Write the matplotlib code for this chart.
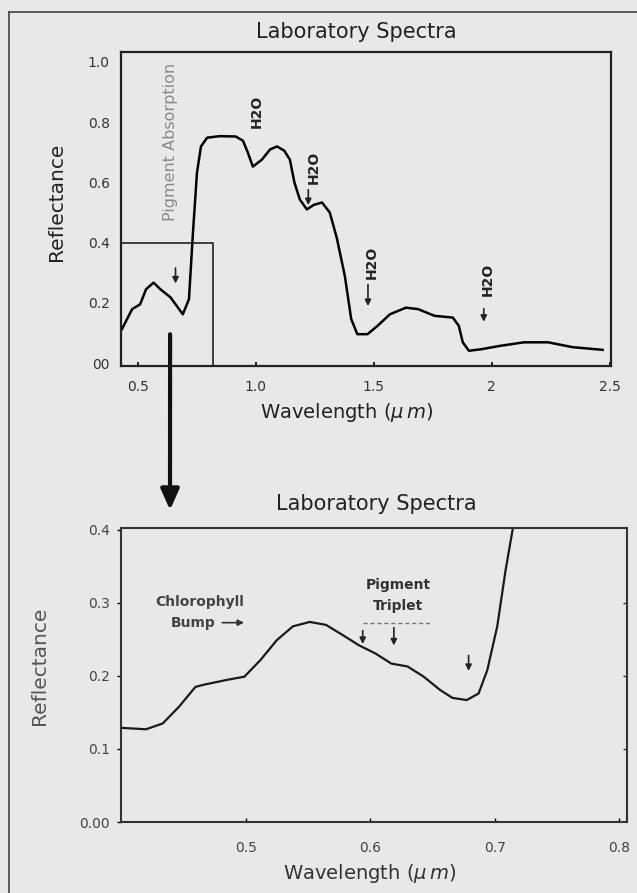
import matplotlib
matplotlib.use("Agg")
import matplotlib.pyplot as plt
from matplotlib.lines import Line2D

# full laboratory spectrum (wavelength in um, reflectance)
top_wl = [0.432, 0.475, 0.509, 0.534, 0.566, 0.595, 0.638, 0.69, 0.716, 0.733,
          0.75, 0.767, 0.793, 0.845, 0.914, 0.945, 0.965, 0.987, 1.025, 1.06,
          1.089, 1.12, 1.144, 1.163, 1.186, 1.216, 1.245, 1.28, 1.313, 1.343,
          1.377, 1.404, 1.43, 1.473, 1.516, 1.568, 1.636, 1.688, 1.757, 1.835,
          1.86, 1.877, 1.903, 1.955, 2.033, 2.136, 2.239, 2.342, 2.47]
top_refl = [0.113, 0.179, 0.195, 0.245, 0.267, 0.245, 0.218, 0.162, 0.212, 0.433,
            0.632, 0.719, 0.748, 0.753, 0.752, 0.738, 0.70, 0.652, 0.675, 0.709,
            0.719, 0.705, 0.675, 0.60, 0.543, 0.510, 0.525, 0.533, 0.50, 0.415,
            0.289, 0.146, 0.096, 0.096, 0.124, 0.162, 0.184, 0.179, 0.157, 0.151,
            0.124, 0.069, 0.041, 0.046, 0.057, 0.069, 0.069, 0.053, 0.044]

# zoom on the visible part
bot_wl = [0.400, 0.420, 0.4335, 0.4466, 0.4597, 0.4663, 0.486, 0.499, 0.512,
          0.525, 0.538, 0.5515, 0.5645, 0.578, 0.591, 0.604, 0.617, 0.630,
          0.643, 0.656, 0.666, 0.6775, 0.687, 0.694, 0.702, 0.7087, 0.7146, 0.72]
bot_refl = [0.129, 0.127, 0.135, 0.158, 0.185, 0.188, 0.195, 0.199, 0.222,
            0.249, 0.268, 0.274, 0.270, 0.256, 0.242, 0.231, 0.217, 0.213,
            0.199, 0.181, 0.170, 0.167, 0.176, 0.208, 0.268, 0.345, 0.403, 0.47]

top_xticks = [0.5, 1.0, 1.5, 2.0, 2.5]
top_xlabels = ["0.5", "1.0", "1.5", "2", "2.5"]
top_yticks = [0.0, 0.2, 0.4, 0.6, 0.8, 1.0]
top_ylabels = ["00", "0.2", "0.4", "0.6", "0.8", "1.0"]
bot_xticks = [0.5, 0.6, 0.7, 0.8]
bot_xlabels = ["0.5", "0.6", "0.7", "0.8"]
bot_yticks = [0.0, 0.1, 0.2, 0.3, 0.4]
bot_ylabels = ["0.00", "0.1", "0.2", "0.3", "0.4"]

# water absorption labels: (text x, text bottom y, arrow x, arrow top, arrow tip)
h2o_x = [1.004, 1.246, 1.49, 1.983]
h2o_y = [0.78, 0.593, 0.278, 0.222]
h2o_arrow = [None, (1.222, 0.585, 0.515), (1.475, 0.27, 0.18), (1.966, 0.19, 0.128)]

# pigment triplet arrows: (x, top, tip)
triplet = [(0.594, 0.266, 0.240), (0.619, 0.270, 0.238), (0.679, 0.232, 0.203)]

BG = "#e8e8e8"
INK = "#222222"
plt.rcParams["font.family"] = ["DejaVu Sans"]

fig = plt.figure(figsize=(6.37, 8.93), dpi=100, facecolor=BG)
ax1 = fig.add_axes([0.190, 0.590, 0.769, 0.352], facecolor=BG)
ax2 = fig.add_axes([0.190, 0.0795, 0.794, 0.3295], facecolor=BG)

# outer frame of the picture
fig.add_artist(Line2D([9 / 637, 9 / 637], [0, 1 - 12 / 893], transform=fig.transFigure,
                      color="#444444", lw=1.2))
fig.add_artist(Line2D([9 / 637, 1], [1 - 12 / 893, 1 - 12 / 893], transform=fig.transFigure,
                      color="#444444", lw=1.2))

# ---- top panel
ax1.plot(top_wl, top_refl, c="black", lw=1.8)
ax1.set_xlim(0.428, 2.505)
ax1.set_ylim(-0.01, 1.033)
ax1.set_xticks(top_xticks, top_xlabels)
ax1.set_yticks(top_yticks, top_ylabels)
ax1.tick_params(axis="x", direction="in", length=3, width=1.2, pad=10,
                labelsize=10, labelcolor="#333333")
ax1.tick_params(axis="y", length=0, pad=8, labelsize=10, labelcolor="#333333")
for s in ax1.spines.values():
    s.set_linewidth(1.6)
    s.set_color(INK)
ax1.set_title("Laboratory Spectra", fontsize=15, color=INK, pad=10, x=0.48)
ax1.set_xlabel("Wavelength ($\\mu\\,m$)", fontsize=14, color=INK, labelpad=5, x=0.461)
ax1.set_ylabel("Reflectance", fontsize=14.5, color=INK)
ax1.yaxis.set_label_coords(-0.112, 0.522)

# pigment absorption box
ax1.plot([0.428, 0.818, 0.818], [0.40, 0.40, -0.01], c=INK, lw=1.2, clip_on=False)
ax1.text(0.636, 0.47, "Pigment Absorption", rotation=90, ha="center", va="bottom",
         fontsize=11.5, color="#8a8a8a")
ax1.annotate("", xy=(0.659, 0.255), xytext=(0.659, 0.325),
             arrowprops=dict(arrowstyle="-|>", color=INK, lw=1.2, mutation_scale=9))

for x, y, arr in zip(h2o_x, h2o_y, h2o_arrow):
    ax1.text(x, y, "H2O", rotation=90, ha="center", va="bottom", fontsize=10,
             fontweight="bold", color=INK)
    if arr is not None:
        ax1.annotate("", xy=(arr[0], arr[2]), xytext=(arr[0], arr[1]),
                     arrowprops=dict(arrowstyle="-|>", color=INK, lw=1.2, mutation_scale=9))

# big arrow from the box down to the zoomed panel
ax1.annotate("", xy=(170 / 637, 1 - 510 / 893), xycoords="figure fraction",
             xytext=(0.636, 0.096), textcoords="data", annotation_clip=False,
             arrowprops=dict(arrowstyle="-|>,head_length=0.9,head_width=0.4",
                             color="#111111", lw=3.0, mutation_scale=14,
                             shrinkA=0, shrinkB=0))

# ---- bottom panel
ax2.plot(bot_wl, bot_refl, c="#1a1a1a", lw=1.6)
ax2.set_xlim(0.4, 0.806)
ax2.set_ylim(0.0, 0.403)
ax2.set_xticks(bot_xticks, bot_xlabels)
ax2.set_yticks(bot_yticks, bot_ylabels)
ax2.tick_params(axis="x", direction="in", length=3, width=1.0, pad=14,
                labelsize=10, labelcolor="#444444")
ax2.tick_params(axis="y", direction="out", length=3, width=1.0, pad=5,
                labelsize=10, labelcolor="#444444")
for s in ax2.spines.values():
    s.set_linewidth(1.5)
    s.set_color("#333333")
# inward ticks on the right side
right = ax2.secondary_yaxis("right")
right.set_yticks(bot_yticks[1:4], [])
right.tick_params(direction="in", length=3, width=1.0, color="#333333")
right.spines["right"].set_visible(False)

ax2.set_title("Laboratory Spectra", fontsize=15, color=INK, pad=13, x=0.504)
ax2.set_xlabel("Wavelength ($\\mu\\,m$)", fontsize=14, color="#333333", labelpad=5, x=0.492)
ax2.set_ylabel("Reflectance", fontsize=14.5, color="#555555")
ax2.yaxis.set_label_coords(-0.142, 0.531)

ax2.text(0.4635, 0.301, "Chlorophyll", ha="center", va="center", fontsize=10,
         fontweight="bold", color="#444444")
ax2.text(0.4575, 0.272, "Bump", ha="center", va="center", fontsize=10,
         fontweight="bold", color="#444444")
ax2.annotate("", xy=(0.501, 0.273), xytext=(0.479, 0.273),
             arrowprops=dict(arrowstyle="-|>", color="#333333", lw=1.2, mutation_scale=9))
ax2.text(0.6226, 0.325, "Pigment", ha="center", va="center", fontsize=10,
         fontweight="bold", color="#333333")
ax2.text(0.6226, 0.296, "Triplet", ha="center", va="center", fontsize=10,
         fontweight="bold", color="#333333")
ax2.plot([0.594, 0.650], [0.273, 0.273], ls=(0, (3, 2)), c="#777777", lw=1.0)
for x, y0, y1 in triplet:
    ax2.annotate("", xy=(x, y1), xytext=(x, y0),
                 arrowprops=dict(arrowstyle="-|>", color=INK, lw=1.2, mutation_scale=9))

fig.savefig("out.png", dpi=100, facecolor=BG)
